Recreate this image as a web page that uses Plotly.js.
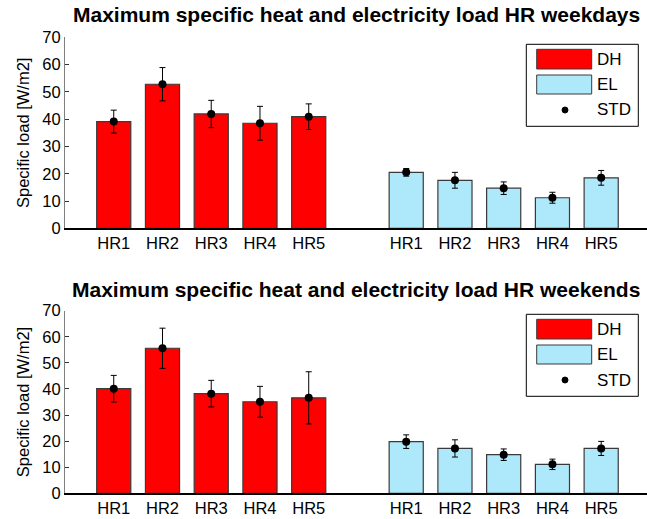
<!DOCTYPE html>
<html>
<head>
<meta charset="utf-8">
<script src="https://cdn.plot.ly/plotly-3.0.1.min.js"></script>
<style>
html,body{margin:0;padding:0;background:#fff;overflow:hidden;}
#chart{width:647px;height:519px;}
</style>
</head>
<body>
<div id="chart"></div>
<script>
// ---- data ----
var categories = ['HR1','HR2','HR3','HR4','HR5'];
var dhPos = [1,2,3,4,5];
var elPos = [7,8,9,10,11];

// weekdays
var dhWeekday = [39.1, 52.8, 41.9, 38.5, 40.9];
var dhWeekdayStd = [4.2, 6.1, 5.0, 6.2, 4.7];
var elWeekday = [20.5, 17.6, 14.7, 11.2, 18.5];
var elWeekdayStd = [1.4, 2.9, 2.3, 2.0, 2.7];

// weekends
var dhWeekend = [40.1, 55.6, 38.2, 35.1, 36.6];
var dhWeekendStd = [5.1, 7.7, 5.1, 5.9, 10.0];
var elWeekend = [19.8, 17.2, 14.8, 11.1, 17.2];
var elWeekendStd = [2.6, 3.3, 2.2, 2.0, 2.7];

var titles = ['Maximum specific heat and electricity load HR weekdays',
              'Maximum specific heat and electricity load HR weekends'];
var yTitle = 'Specific load [W/m2]';
var legendNames = ['DH','EL','STD'];

// ---- styles ----
var FONT = 'Arial, Liberation Sans, sans-serif';
var RED = '#ff0000', BLUE = '#aee9fb', EDGE = '#3a3a3a';
var W = 647, H = 519, L = 65;
function px(x){ return (x - L) / (W - L); }
function py(y){ return 1 - y / H; }

function barTrace(xs, ys, color, xa, ya){
  return {type:'bar', x:xs, y:ys, width:0.7, xaxis:xa, yaxis:ya,
    marker:{color:color, line:{color:EDGE, width:1.2}}, showlegend:false, hoverinfo:'skip'};
}
function stdTrace(xs, ys, sd, xa, ya){
  return {type:'scatter', mode:'markers', x:xs, y:ys, xaxis:xa, yaxis:ya,
    marker:{color:'#000', size:8},
    error_y:{type:'data', array:sd, visible:true, color:'#000', thickness:1, width:3},
    showlegend:false, hoverinfo:'skip'};
}

var allPos = dhPos.concat(elPos);
var allText = categories.concat(categories);

var data = [
  barTrace(dhPos, dhWeekday, RED, 'x', 'y'),
  barTrace(elPos, elWeekday, BLUE, 'x', 'y'),
  stdTrace(dhPos, dhWeekday, dhWeekdayStd, 'x', 'y'),
  stdTrace(elPos, elWeekday, elWeekdayStd, 'x', 'y'),
  barTrace(dhPos, dhWeekend, RED, 'x2', 'y2'),
  barTrace(elPos, elWeekend, BLUE, 'x2', 'y2'),
  stdTrace(dhPos, dhWeekend, dhWeekendStd, 'x2', 'y2'),
  stdTrace(elPos, elWeekend, elWeekendStd, 'x2', 'y2')
];

function xaxis(anchor){
  return {anchor:anchor, domain:[0,1], range:[0,11.94], tickvals:allPos, ticktext:allText,
    showline:true, linecolor:'#000', linewidth:1.2, ticks:'', showgrid:false, zeroline:false,
    tickfont:{family:FONT, size:16.5, color:'#000'}, ticklen:0,
    fixedrange:true};
}
function yaxis(anchor, dom){
  return {anchor:anchor, domain:dom, range:[0,70], dtick:10, showline:true, linecolor:'#808080',
    linewidth:1, ticks:'inside', ticklen:4, tickcolor:'#333', showgrid:false, zeroline:false,
    tickfont:{family:FONT, size:16.5, color:'#000'},
    title:{text:yTitle, font:{family:FONT, size:16.5, color:'#000'}, standoff:8},
    fixedrange:true};
}

var topDom = [py(228.3), py(37.3)];
var botDom = [py(493.3), py(310.7)];

var shapes = [], annotations = [];
function addLegend(top){
  var o = top - 44.3; // offset
  shapes.push({type:'rect', xref:'paper', yref:'paper', x0:px(526.3), x1:px(638.3), y0:py(126.3+o), y1:py(44.3+o),
    line:{color:'#000', width:1}, fillcolor:'#fff'});
  shapes.push({type:'rect', xref:'paper', yref:'paper', x0:px(536.7), x1:px(591.7), y0:py(69+o), y1:py(49.3+o),
    line:{color:EDGE, width:1}, fillcolor:RED});
  shapes.push({type:'rect', xref:'paper', yref:'paper', x0:px(536.7), x1:px(591.7), y0:py(94+o), y1:py(75+o),
    line:{color:EDGE, width:1}, fillcolor:BLUE});
  shapes.push({type:'circle', xref:'paper', yref:'paper', x0:px(562), x1:px(568), y0:py(113+o), y1:py(107+o),
    line:{color:'#000', width:1}, fillcolor:'#000'});
  var ys = [59.2, 84.5, 110];
  for (var i=0;i<3;i++){
    annotations.push({xref:'paper', yref:'paper', x:px(595), y:py(ys[i]+o), xanchor:'left', yanchor:'middle',
      text:legendNames[i], showarrow:false, font:{family:FONT, size:17, color:'#000'}});
  }
}
addLegend(44.3);
addLegend(314.3);

annotations.push({xref:'paper', yref:'paper', x:px(356), y:py(14), xanchor:'center', yanchor:'middle',
  text:'<b>'+titles[0]+'</b>', showarrow:false, font:{family:FONT, size:21, color:'#000'}});
annotations.push({xref:'paper', yref:'paper', x:px(356), y:py(289.5), xanchor:'center', yanchor:'middle',
  text:'<b>'+titles[1]+'</b>', showarrow:false, font:{family:FONT, size:21, color:'#000'}});

var layout = {
  width:W, height:H, margin:{l:L, r:0, t:0, b:0}, paper_bgcolor:'#fff', plot_bgcolor:'#fff',
  showlegend:false, bargap:0,
  xaxis:xaxis('y'), yaxis:yaxis('x', topDom),
  xaxis2:xaxis('y2'), yaxis2:yaxis('x2', botDom),
  shapes:shapes, annotations:annotations
};

Plotly.newPlot('chart', data, layout, {staticPlot:true, displayModeBar:false});
</script>
</body>
</html>
